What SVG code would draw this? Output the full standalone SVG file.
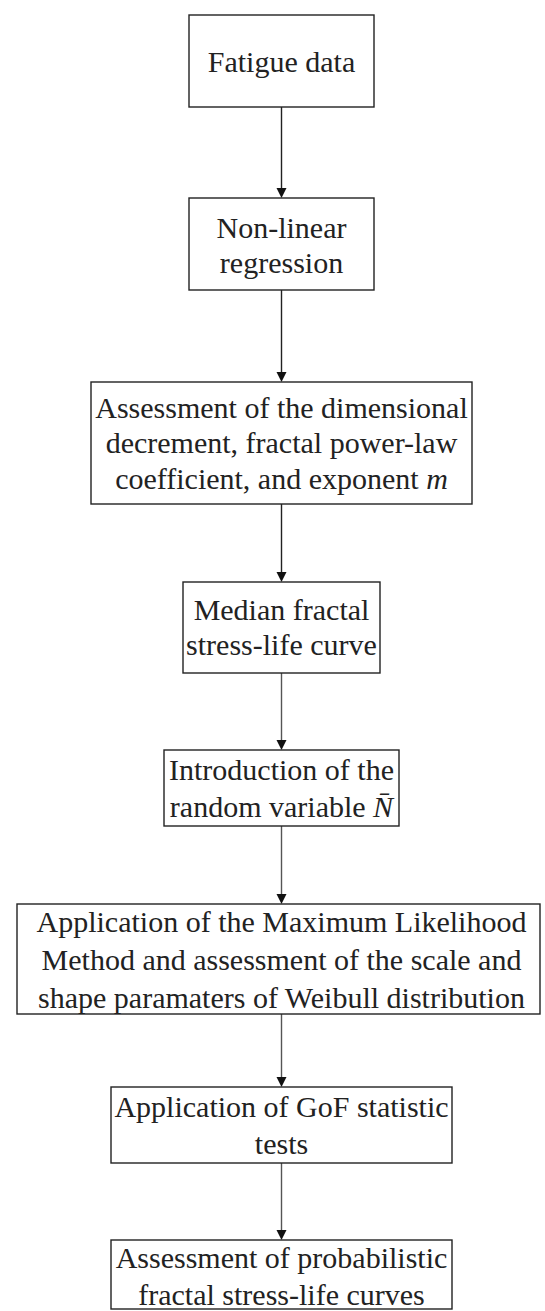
<svg xmlns="http://www.w3.org/2000/svg" width="545" height="1311" viewBox="0 0 545 1311">
<defs>
<style>
.box{fill:#fff;stroke:#222;stroke-width:1.4}
.t{font-family:"Liberation Serif","Times New Roman",serif;font-size:30px;fill:#222;text-anchor:middle}
.c{stroke:#222;stroke-width:1.4;fill:none}
.c2{stroke:#555;stroke-width:1.4;fill:none}
.ah{fill:#111}
</style>
</defs>
<rect width="545" height="1311" fill="#fff"/>
<g id="connectors">
<line class="c" x1="281.5" y1="107" x2="281.5" y2="190"/>
<polygon class="ah" points="276.5,188 286.5,188 281.5,198"/>
<line class="c" x1="281.5" y1="290" x2="281.5" y2="374"/>
<polygon class="ah" points="276.5,372 286.5,372 281.5,382"/>
<line class="c" x1="281.5" y1="504" x2="281.5" y2="574"/>
<polygon class="ah" points="276.5,572 286.5,572 281.5,582"/>
<line class="c2" x1="281.5" y1="673" x2="281.5" y2="742"/>
<polygon class="ah" points="276.5,740 286.5,740 281.5,750"/>
<line class="c2" x1="281.5" y1="826" x2="281.5" y2="896"/>
<polygon class="ah" points="276.5,894 286.5,894 281.5,904"/>
<line class="c2" x1="281.5" y1="1014" x2="281.5" y2="1079"/>
<polygon class="ah" points="276.5,1077 286.5,1077 281.5,1087"/>
<line class="c2" x1="281.5" y1="1163" x2="281.5" y2="1232"/>
<polygon class="ah" points="276.5,1230 286.5,1230 281.5,1240"/>
</g>
<g id="n1">
<rect class="box" x="189" y="15" width="185" height="92"/>
<text class="t" x="281.5" y="72">Fatigue data</text>
</g>
<g id="n2">
<rect class="box" x="189" y="198" width="185" height="92"/>
<text class="t" x="281.5" y="238">Non-linear</text>
<text class="t" x="281.5" y="273">regression</text>
</g>
<g id="n3">
<rect class="box" x="91" y="382" width="381" height="122"/>
<text class="t" x="281.5" y="418">Assessment of the dimensional</text>
<text class="t" x="281.5" y="453">decrement, fractal power-law</text>
<text class="t" x="281.5" y="489">coefficient, and exponent <tspan font-style="italic">m</tspan></text>
</g>
<g id="n4">
<rect class="box" x="183" y="582" width="197" height="91"/>
<text class="t" x="281.5" y="620">Median fractal</text>
<text class="t" x="281.5" y="655">stress-life curve</text>
</g>
<g id="n5">
<rect class="box" x="164" y="750" width="235" height="76"/>
<text class="t" x="281.5" y="780">Introduction of the</text>
<text class="t" x="281.5" y="817">random variable <tspan font-style="italic">N̄</tspan></text>
</g>
<g id="n6">
<rect class="box" x="17" y="904" width="523" height="110"/>
<text class="t" x="281.5" y="932">Application of the Maximum Likelihood</text>
<text class="t" x="281.5" y="970">Method and assessment of the scale and</text>
<text class="t" x="281.5" y="1008">shape paramaters of Weibull distribution</text>
</g>
<g id="n7">
<rect class="box" x="111" y="1087" width="341" height="76"/>
<text class="t" x="281.5" y="1117">Application of GoF statistic</text>
<text class="t" x="281.5" y="1154">tests</text>
</g>
<g id="n8">
<rect class="box" x="111" y="1240" width="341" height="69"/>
<text class="t" x="281.5" y="1268">Assessment of probabilistic</text>
<text class="t" x="281.5" y="1305">fractal stress-life curves</text>
</g>
</svg>
